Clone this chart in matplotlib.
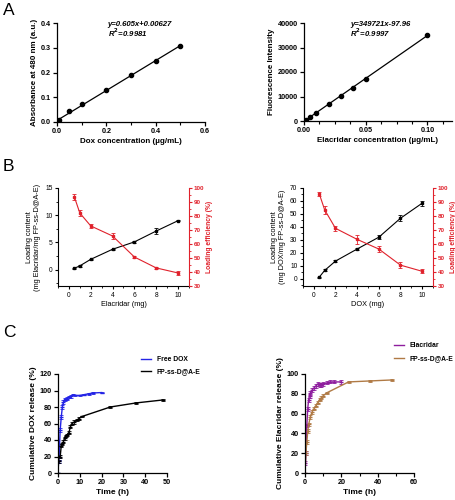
import matplotlib
matplotlib.use("Agg")
import matplotlib.pyplot as plt
from matplotlib.ticker import AutoMinorLocator, FormatStrFormatter
from matplotlib.lines import Line2D
import numpy as np

plt.rcParams['font.family'] = ['Liberation Sans', 'DejaVu Sans']

# ---------------- Data ----------------
# A left: DOX standard curve
dox_conc = [0, 0.01, 0.05, 0.1, 0.2, 0.3, 0.4, 0.5]
dox_abs = [0.002, 0.007, 0.043, 0.071, 0.130, 0.188, 0.247, 0.306]
dox_slope, dox_int = 0.605, 0.00627

# A right: Elacridar standard curve
ela_conc = [0, 0.002, 0.005, 0.01, 0.02, 0.03, 0.04, 0.05, 0.1]
ela_fl = [0, 400, 1700, 3300, 7000, 10300, 13500, 17200, 35000]
ela_slope, ela_int = 349721, -97.96

# B: loading
feed = [0.5, 1, 2, 4, 6, 8, 10]
ela_lc = [0.25, 0.7, 1.9, 3.75, 5.1, 7.1, 9.0]
ela_lc_err = [0.1, 0.15, 0.15, 0.1, 0.15, 0.5, 0.15]
ela_le = [93.6, 82.1, 72.9, 65.7, 50.7, 42.9, 39.3]
ela_le_err = [2.0, 2.0, 1.5, 1.8, 0.8, 1.0, 1.3]
dox_lc = [1.3, 6.5, 13.7, 23.0, 32.1, 46.7, 58.3]
dox_lc_err = [0.5, 0.8, 0.6, 1.0, 1.5, 2.5, 2.0]
dox_le = [95.9, 84.4, 71.2, 63.3, 56.4, 44.9, 40.5]
dox_le_err = [1.5, 3.0, 1.8, 3.0, 2.0, 2.0, 1.5]

# C left: DOX release
free_dox_t = [0, 0.25, 0.5, 1, 1.5, 2, 2.5, 3, 4, 5, 6, 7, 8, 10, 12, 14, 16, 20]
free_dox_r = [0, 14, 20, 52, 68, 80, 86, 89, 90, 92, 93, 95, 94, 94, 95, 96, 97, 97.5]
free_dox_e = [0, 2, 2, 2, 2, 2, 2, 1.5, 2, 1.5, 1.5, 1, 1, 1, 1, 1, 1, 1]
fp_dox_t = [0, 0.25, 0.5, 1, 1.5, 2, 2.5, 3, 3.5, 4, 5, 5.7, 6.4, 7.5, 8.7, 9.6, 11, 24, 36, 48]
fp_dox_r = [0, 14, 20, 20, 33, 35, 38, 42, 45, 46, 49, 56, 60, 62, 64, 66, 68.5, 80, 85, 88.5]
fp_dox_e = [0, 2, 2, 2, 2, 1.5, 1.5, 2, 1.5, 1.5, 1.5, 2, 2, 2, 1.5, 1.5, 1, 1, 1.5, 1]

# C right: Elacridar release
free_ela_t = [0, 0.25, 0.5, 1, 1.5, 2, 2.5, 3, 4, 5, 6, 7, 8, 9, 10, 12, 14, 16, 20]
free_ela_r = [0, 10, 20, 48, 65, 74, 78, 81, 84, 86, 88, 90, 89, 89, 90, 91, 92, 92, 92]
free_ela_e = [0, 2, 2, 2, 2, 2, 2, 2, 2, 2, 2, 2, 2, 2, 2, 1.5, 1.5, 1.5, 2]
fp_ela_t = [0, 0.5, 1, 1.5, 2, 3, 4, 5, 6, 7, 8, 9, 10, 12, 24, 36, 48]
fp_ela_r = [0, 20, 31, 42, 49, 57, 62, 65, 68, 71, 74, 76, 78, 81, 92, 93, 94]
fp_ela_e = [0, 2, 2, 2, 2, 2, 2, 1.5, 1.5, 1.5, 1.5, 1.5, 1.5, 1, 1, 1, 1]

RED = '#E0212B'
BLUE = '#2424E6'
PURPLE = '#8E1D9E'
BROWN = '#B07A45'

fig = plt.figure(figsize=(4.56, 5.00), dpi=100)
W, H = 456.0, 500.0

def add_ax(x0, y0, x1, y1):
    return fig.add_axes([x0 / W, 1 - y1 / H, (x1 - x0) / W, (y1 - y0) / H])

def prism_style(ax):
    for s in ['top', 'right']:
        ax.spines[s].set_visible(False)
    for s in ['left', 'bottom']:
        ax.spines[s].set_linewidth(0.9)
    ax.tick_params(which='major', direction='out', length=3, width=0.9, labelsize=5.2, pad=1.5)
    ax.tick_params(which='minor', direction='out', length=2, width=0.8)
    for lab in ax.get_xticklabels() + ax.get_yticklabels():
        lab.set_fontweight('bold')

# ---------------- A left ----------------
ax = add_ax(57, 23, 205, 122)
xx = np.array([0, 0.5])
ax.plot(xx, dox_slope * xx + dox_int, color='black', lw=0.9)
ax.plot(dox_conc, dox_abs, 'o', color='black', ms=3)
ax.set_xlim(0, 0.6)
ax.set_ylim(0, 0.4)
ax.set_xticks([0, 0.2, 0.4, 0.6])
ax.set_xticks(np.arange(0, 0.61, 0.1), minor=True)
ax.set_yticks([0, 0.1, 0.2, 0.3, 0.4])
ax.xaxis.set_major_formatter(FormatStrFormatter('%.1f'))
ax.yaxis.set_major_formatter(FormatStrFormatter('%.1f'))
prism_style(ax)
ax.set_xlabel('Dox concentration (µg/mL)', fontsize=5.8, fontweight='bold', labelpad=2)
ax.set_ylabel('Absorbance at 480 nm (a.u.)', fontsize=5.8, fontweight='bold', labelpad=2)
ax.text(0.205, 0.395, 'y=0.605x+0.00627', fontsize=5.6, fontweight='bold', style='italic', va='center')
ax.text(0.205, 0.36, 'R$^\\mathbf{2}$=0.9981', fontsize=5.6, fontweight='bold', style='italic', va='center')

# ---------------- A right ----------------
ax = add_ax(304, 23, 452, 121)
xx = np.array([0, 0.1])
ax.plot(xx, ela_slope * xx + ela_int, color='black', lw=0.9)
ax.plot(ela_conc, ela_fl, 'o', color='black', ms=3)
ax.set_xlim(0, 0.12)
ax.set_ylim(0, 40000)
ax.set_xticks([0, 0.05, 0.10])
ax.set_xticks(np.arange(0, 0.121, 0.0125), minor=True)
ax.set_yticks([0, 10000, 20000, 30000, 40000])
ax.xaxis.set_major_formatter(FormatStrFormatter('%.2f'))
prism_style(ax)
ax.set_xlabel('Elacridar concentration (µg/mL)', fontsize=5.8, fontweight='bold', labelpad=2)
ax.set_ylabel('Fluorescence Intensity', fontsize=5.8, fontweight='bold', labelpad=2)
ax.text(0.0375, 39500, 'y=349721x-97.96', fontsize=5.6, fontweight='bold', style='italic', va='center')
ax.text(0.0375, 36000, 'R$^\\mathbf{2}$=0.9997', fontsize=5.6, fontweight='bold', style='italic', va='center')

# ---------------- B panels ----------------
def loading_panel(box, lc, lc_err, le, le_err, ylim, yticks, xlabel, ylabel):
    ax = add_ax(*box)
    ax2 = ax.twinx()
    ax.errorbar(feed, lc, yerr=lc_err, color='black', lw=0.8, marker='s', ms=1.8,
                capsize=1.2, elinewidth=0.6, capthick=0.6)
    ax2.errorbar(feed, le, yerr=le_err, color=RED, lw=0.8, marker='s', ms=1.8,
                 capsize=1.2, elinewidth=0.6, capthick=0.6)
    ax.set_xlim(-1, 11)
    ax.set_xticks([0, 2, 4, 6, 8, 10])
    ax.set_ylim(*ylim)
    ax.set_yticks(yticks)
    ax2.set_ylim(30, 100)
    ax2.set_yticks(range(30, 101, 10))
    ax2.yaxis.set_minor_locator(AutoMinorLocator(2))
    ax.xaxis.set_minor_locator(AutoMinorLocator(2))
    ax.yaxis.set_minor_locator(AutoMinorLocator(2))
    for a in (ax, ax2):
        a.spines['top'].set_visible(False)
        for s in ['left', 'bottom', 'right']:
            a.spines[s].set_linewidth(0.8)
    ax.spines['right'].set_visible(False)
    ax2.spines['left'].set_visible(False)
    ax2.spines['bottom'].set_visible(False)
    ax2.spines['right'].set_color(RED)
    ax.tick_params(which='major', direction='out', length=2.5, width=0.8, labelsize=4.8, pad=1.5)
    ax.tick_params(which='minor', direction='out', length=1.5, width=0.6)
    ax2.tick_params(which='major', direction='out', length=2.5, width=0.8, labelsize=4.5, pad=1,
                    colors=RED)
    ax2.tick_params(which='minor', direction='out', length=1.5, width=0.6, colors=RED)
    for lab in ax2.get_yticklabels():
        lab.set_fontweight('bold')
    ax.set_xlabel(xlabel, fontsize=5.3, labelpad=2)
    ax.set_ylabel(ylabel, fontsize=5.3, labelpad=3, linespacing=1.1)
    ax2.set_ylabel('Loading efficiency (%)', fontsize=4.9, color=RED, fontweight='bold', labelpad=1)
    return ax

loading_panel((58, 188, 189, 286), ela_lc, ela_lc_err, ela_le, ela_le_err,
              (-3, 15), [0, 5, 10, 15], 'Elacridar (mg)',
              'Loading content\n(mg Elacridar/mg FP-ss-D@A-E)')
loading_panel((303, 188, 433, 286), dox_lc, dox_lc_err, dox_le, dox_le_err,
              (-5.5, 70), [0, 10, 20, 30, 40, 50, 60, 70], 'DOX (mg)',
              'Loading content\n(mg DOX/mg FP-ss-D@A-E)')

# ---------------- C panels ----------------
def release_panel(box, series, xlim, xticks, xminor, ylim, yticks, ylabel, leg_anchor, leg_spacing):
    ax = add_ax(*box)
    for t, r, e, c, lab in series:
        ax.errorbar(t, r, yerr=e, color=c, lw=1.0, marker='_', ms=3,
                    capsize=1.3, elinewidth=0.6, capthick=0.6, label=lab)
    ax.set_xlim(*xlim)
    ax.set_xticks(xticks)
    if xminor is not None:
        ax.set_xticks(xminor, minor=True)
    ax.set_ylim(*ylim)
    ax.set_yticks(yticks)
    prism_style(ax)
    ax.set_xlabel('Time (h)', fontsize=6, fontweight='bold', labelpad=2)
    ax.set_ylabel(ylabel, fontsize=6, fontweight='bold', labelpad=2)
    lh = [Line2D([0], [0], color=s[3], lw=1.0) for s in series]
    fig.legend(lh, [s[4] for s in series], loc='upper left',
               bbox_to_anchor=(leg_anchor[0] / W, 1 - leg_anchor[1] / H),
               frameon=False, prop={'size': 4.9, 'weight': 'bold'},
               handlelength=1.5, handletextpad=0.8, labelspacing=leg_spacing,
               borderaxespad=0, borderpad=0)
    return ax

release_panel((58, 374, 167, 473),
              [(free_dox_t, free_dox_r, free_dox_e, BLUE, 'Free DOX'),
               (fp_dox_t, fp_dox_r, fp_dox_e, 'black', 'FP-ss-D@A-E')],
              (0, 50), [0, 10, 20, 30, 40, 50], None, (0, 120), range(0, 121, 20),
              'Cumulative DOX release (%)', (141, 356), 0.75)
release_panel((305, 374, 414, 473),
              [(free_ela_t, free_ela_r, free_ela_e, PURPLE, 'Elacridar'),
               (fp_ela_t, fp_ela_r, fp_ela_e, BROWN, 'FP-ss-D@A-E')],
              (0, 60), [0, 20, 40, 60], [10, 30, 50], (0, 100), range(0, 101, 20),
              'Cumulative Elacridar release (%)', (394, 342), 0.95)

# Panel letters
fig.text(3 / W, 1 - 3 / H, 'A', fontsize=12.5, va='top', ha='left')
fig.text(3 / W, 1 - 159 / H, 'B', fontsize=12.5, va='top', ha='left')
fig.text(3 / W, 1 - 325 / H, 'C', fontsize=12.5, va='top', ha='left')

fig.savefig('out.png', dpi=100)
